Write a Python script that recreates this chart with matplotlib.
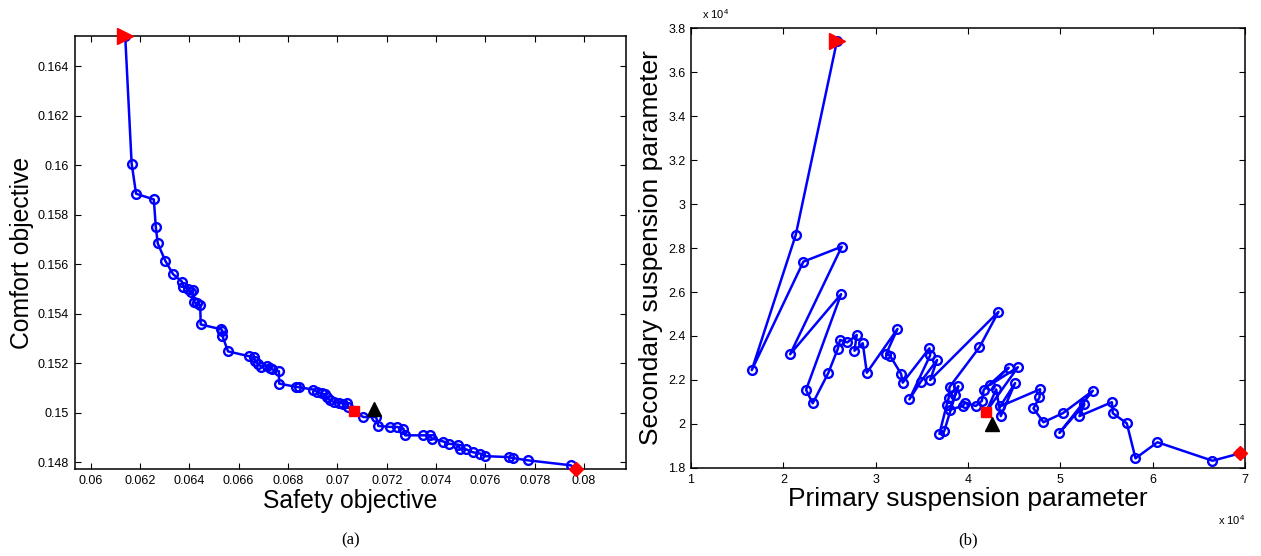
import matplotlib
matplotlib.use('Agg')
import matplotlib.pyplot as plt
from matplotlib.ticker import FuncFormatter, MultipleLocator

plt.rcParams['font.family'] = ['Liberation Sans', 'DejaVu Sans']
plt.rcParams['mathtext.fontset'] = 'custom'
plt.rcParams['mathtext.rm'] = 'Liberation Sans'

# --- objective space (a): safety vs comfort, sorted by safety ---
safety = [0.0614, 0.06166, 0.06184, 0.06256, 0.06264, 0.06272, 0.06302, 0.06334,
          0.0637, 0.06376, 0.06393, 0.06408, 0.06413, 0.06418, 0.0643, 0.06444,
          0.06446, 0.0653, 0.06534, 0.06534, 0.06557, 0.0664, 0.06662, 0.06668,
          0.06678, 0.06692, 0.06713, 0.06726, 0.06737, 0.06763, 0.06764, 0.06832,
          0.06845, 0.06902, 0.06918, 0.06936, 0.0695, 0.06957, 0.0697, 0.06987,
          0.07008, 0.07024, 0.07038, 0.07044, 0.07067, 0.07105, 0.07157, 0.07166,
          0.07214, 0.07241, 0.07268, 0.07275, 0.07349, 0.07376, 0.07383, 0.0743,
          0.07451, 0.07491, 0.07496, 0.07523, 0.07548, 0.0758, 0.07597, 0.07695,
          0.07713, 0.07772, 0.07946, 0.07966]
comfort = [0.1652, 0.16006, 0.15884, 0.15861, 0.15749, 0.15683, 0.15614, 0.15559,
           0.15529, 0.15508, 0.15499, 0.15488, 0.15495, 0.15447, 0.15441, 0.15434,
           0.15356, 0.15336, 0.1533, 0.15309, 0.15247, 0.15228, 0.15225, 0.15208,
           0.15196, 0.15185, 0.1519, 0.15181, 0.15174, 0.15167, 0.15117, 0.15104,
           0.15102, 0.15093, 0.15083, 0.15077, 0.15073, 0.15061, 0.1505, 0.15042,
           0.15039, 0.15036, 0.15039, 0.15023, 0.15005, 0.14982, 0.14982, 0.14946,
           0.14942, 0.14942, 0.14935, 0.14908, 0.14908, 0.14908, 0.14895, 0.14883,
           0.14874, 0.1487, 0.14854, 0.14851, 0.1484, 0.14834, 0.14824, 0.1482,
           0.14816, 0.14807, 0.14787, 0.14772]
# special solutions in objective space
best_comfort_a = (0.0614, 0.1652)
knee_a = (0.07067, 0.15005)
best_safety_a = (0.07966, 0.14772)
reference_a = (0.0715, 0.15013)

# --- decision space (b): primary vs secondary suspension parameter ---
primary = [25800, 21340, 16580, 22170, 26320, 20730, 26250, 22460, 23180, 24880,
           25890, 26140, 26930, 27950, 27700, 28600, 29040, 32360, 31130, 31560,
           32750, 32930, 35820, 35900, 33650, 34880, 36650, 35900, 43300, 41240,
           38000, 37900, 37700, 36900, 37410, 38600, 38950, 38000, 39430, 39690,
           40850, 41500, 41700, 44400, 42400, 45400, 41960, 43050, 43550, 45100,
           43480, 47810, 47740, 47090, 48170, 50270, 53520, 49900, 52610, 52070,
           55580, 55680, 57200, 58140, 60520, 66480, 69500]
secondary = [37400, 28590, 22450, 27380, 28060, 23170, 25900, 21550, 20940, 22330,
             23410, 23820, 23710, 24050, 23330, 23670, 22330, 24320, 23180, 23100,
             22280, 21880, 23440, 23120, 21120, 21920, 22910, 22000, 25100, 23490,
             21680, 21170, 20880, 19550, 19660, 21300, 21720, 20640, 20820, 20970,
             20820, 21050, 21560, 22560, 21780, 22580, 20550, 21570, 20360, 21860,
             20800, 21580, 21210, 20710, 20080, 20490, 21510, 19600, 20900, 20360,
             20990, 20490, 20030, 18440, 19170, 18330, 18670]
best_comfort_b = (25800, 37400)
knee_b = (41960, 20550)
best_safety_b = (69500, 18670)
reference_b = (42640, 20000)

fig = plt.figure(figsize=(12.61, 5.56), dpi=100)
ax1 = fig.add_axes([0.0592, 0.1565, 0.4372, 0.7782])
ax2 = fig.add_axes([0.548, 0.1583, 0.4393, 0.7913])


def draw_front(ax, xs, ys, first, knee, last, ref):
    ax.plot(xs, ys, '-o', color='blue', lw=1.8, ms=6.3, mew=1.7, mfc='none', zorder=3)
    ax.plot(*first, '>', color='red', ms=11.5, clip_on=False, zorder=5)
    ax.plot(*knee, 's', color='red', ms=7.5, zorder=5)
    ax.plot(*last, 'D', color='red', ms=7.5, clip_on=False, zorder=5)
    ax.plot(*ref, '^', color='black', ms=9.5, zorder=5)
    ax.tick_params(direction='in', top=True, right=True, length=4, width=0.8,
                   labelsize=9, pad=4)
    for s in ax.spines.values():
        s.set_linewidth(1.1)


draw_front(ax1, safety, comfort, best_comfort_a, knee_a, best_safety_a, reference_a)
ax1.set_xlim(0.05935, 0.0817)
ax1.set_ylim(0.14772, 0.1652)
ax1.xaxis.set_major_locator(MultipleLocator(0.002))
ax1.yaxis.set_major_locator(MultipleLocator(0.002))
fmt = FuncFormatter(lambda v, p: '%g' % round(v, 4))
ax1.xaxis.set_major_formatter(fmt)
ax1.yaxis.set_major_formatter(fmt)
ax1.set_xlabel('Safety objective', fontsize=17.8, labelpad=2)
ax1.set_ylabel('Comfort objective', fontsize=17.8, labelpad=3)

draw_front(ax2, primary, secondary, best_comfort_b, knee_b, best_safety_b, reference_b)
ax2.set_xlim(10000, 70000)
ax2.set_ylim(18000, 38000)
ax2.xaxis.set_major_locator(MultipleLocator(10000))
ax2.yaxis.set_major_locator(MultipleLocator(2000))
fmt4 = FuncFormatter(lambda v, p: '%g' % round(v / 1e4, 3))
ax2.xaxis.set_major_formatter(fmt4)
ax2.yaxis.set_major_formatter(fmt4)
ax2.set_xlabel('Primary suspension parameter', fontsize=19, labelpad=1)
ax2.set_ylabel('Secondary suspension parameter', fontsize=19, labelpad=4)
ax2.text(1.0, -0.13, r'x 10$^4$', transform=ax2.transAxes, fontsize=8, ha='right')
ax2.text(0.02, 1.02, r'x 10$^4$', transform=ax2.transAxes, fontsize=8, ha='left')

fig.text(0.2778, 0.02, '(a)', family='Liberation Serif', fontsize=12, ha='center')
fig.text(0.7676, 0.02, '(b)', family='Liberation Serif', fontsize=12, ha='center')

fig.savefig('out.png', dpi=100)
